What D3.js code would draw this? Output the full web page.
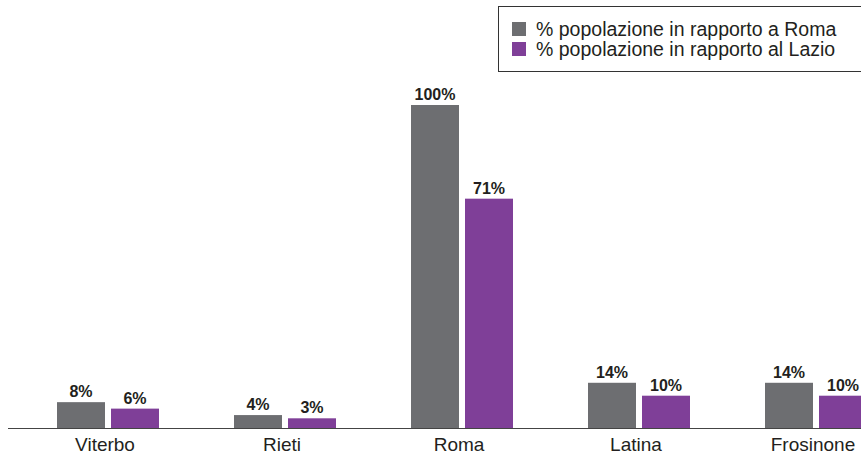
<!DOCTYPE html>
<html>
<head>
<meta charset="utf-8">
<script src="https://cdn.jsdelivr.net/npm/d3@7"></script>
<style>
  body { margin: 0; background: #fff; }
  svg { display: block; font-family: "Liberation Sans", Arial, sans-serif; }
</style>
</head>
<body>
<div id="chart"></div>
<script>
const layout = {
    width: 861,
    height: 456,
    baseline: 428,
    top100: 105,
    axisStart: 8
};

const province = ["Viterbo", "Rieti", "Roma", "Latina", "Frosinone"];
const seriesNames = ["% popolazione in rapporto a Roma", "% popolazione in rapporto al Lazio"];
const pctRoma = [8, 4, 100, 14, 14];
const pctLazio = [6, 3, 71, 10, 10];
const colors = ["#6d6e71", "#7f3f98"];

let svg = d3.select("#chart").append("svg")
    .attr("width", layout.width)
    .attr("height", layout.height);

// groups: step 177, first centre at 108
let xScale = d3.scaleBand()
    .domain(province)
    .range([19.5, 904.5])
    .paddingInner(75 / 177)
    .paddingOuter(37.5 / 177);

let xSub = d3.scaleBand()
    .domain([0, 1])
    .range([0, xScale.bandwidth()])
    .paddingInner(6 / 54);

let yScale = d3.scaleLinear()
    .domain([0, 100])
    .range([layout.baseline, layout.top100]);

let rows = province.map((p, i) => ({ name: p, values: [pctRoma[i], pctLazio[i]] }));

let groups = svg.selectAll(".group")
    .data(rows)
    .enter().append("g")
    .attr("class", "group")
    .attr("transform", d => `translate(${xScale(d.name)},0)`);

groups.selectAll("rect")
    .data(d => d.values.map((v, k) => ({ v: v, k: k })))
    .enter().append("rect")
    .attr("x", d => xSub(d.k))
    .attr("y", d => yScale(d.v))
    .attr("width", xSub.bandwidth())
    .attr("height", d => layout.baseline - yScale(d.v))
    .attr("fill", d => colors[d.k]);

groups.selectAll(".val")
    .data(d => d.values.map((v, k) => ({ v: v, k: k })))
    .enter().append("text")
    .attr("class", "val")
    .attr("x", d => xSub(d.k) + xSub.bandwidth() / 2)
    .attr("y", d => yScale(d.v) - 5)
    .attr("text-anchor", "middle")
    .attr("font-size", 16)
    .attr("font-weight", "bold")
    .attr("fill", "#231f20")
    .text(d => d.v + "%");

// x axis
let xAxis = svg.append("g")
    .attr("transform", `translate(0,${layout.baseline})`)
    .call(d3.axisBottom(xScale).tickSize(0).tickPadding(10));
xAxis.select(".domain").remove();
xAxis.selectAll("text")
    .attr("dy", null)
    .attr("x", -3)
    .attr("y", 23)
    .attr("font-size", 19)
    .attr("font-family", "Liberation Sans, Arial, sans-serif")
    .attr("fill", "#231f20");

svg.append("line")
    .attr("x1", layout.axisStart)
    .attr("x2", layout.width)
    .attr("y1", layout.baseline + 0.5)
    .attr("y2", layout.baseline + 0.5)
    .attr("stroke", "#444")
    .attr("stroke-width", 1.2);

// legend
let legend = svg.append("g").attr("transform", "translate(498,6)");
legend.append("rect")
    .attr("x", 0.5)
    .attr("y", 0.5)
    .attr("width", 370)
    .attr("height", 65)
    .attr("fill", "none")
    .attr("stroke", "#333")
    .attr("stroke-width", 1);

seriesNames.forEach((s, i) => {
    legend.append("rect")
        .attr("x", 14)
        .attr("y", 16 + i * 20)
        .attr("width", 14)
        .attr("height", 14)
        .attr("fill", colors[i]);
    legend.append("text")
        .attr("x", 38)
        .attr("y", 29.5 + i * 20)
        .attr("font-size", 19.5)
        .attr("fill", "#231f20")
        .text(s);
});
</script>
</body>
</html>
